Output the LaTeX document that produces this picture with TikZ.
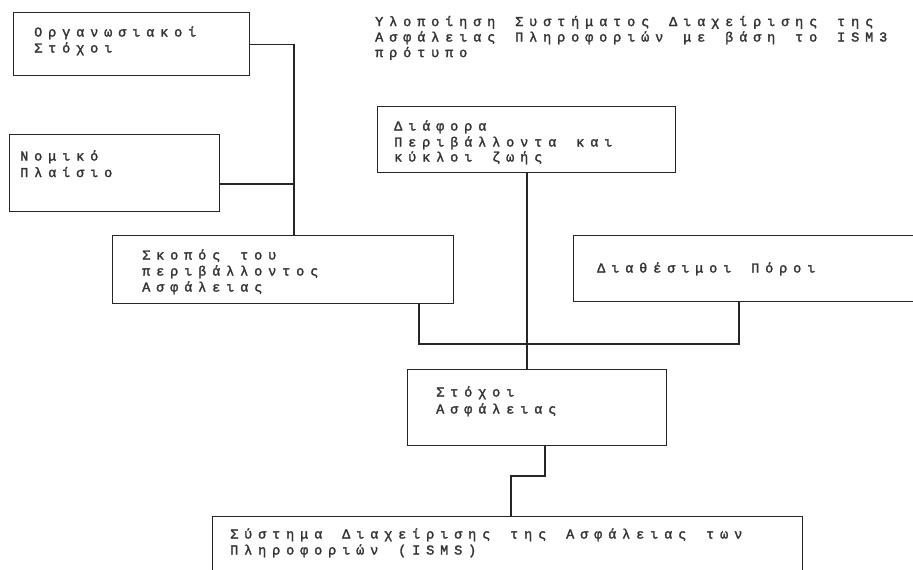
\documentclass[tikz,border=0pt]{standalone}
\usepackage{fontspec}
\setmainfont{Liberation Mono}[FakeBold=2]
\ExplSyntaxOn
\NewDocumentCommand\cells{m}{\str_map_inline:nn{#1}{\makebox[14pt][l]{##1}}}
\ExplSyntaxOff
\begin{document}
\begin{tikzpicture}[x=1pt,y=-1pt,
  box/.style={draw=black!85, line width=1.2pt, fill=none, inner sep=0pt, anchor=north west},
  txt/.style={anchor=base west, inner sep=0pt, text=black!80, font=\fontsize{13.5}{16}\selectfont},
  link/.style={draw=black!85, line width=1.2pt}]
\useasboundingbox (0,0) rectangle (913,570);
\clip (0,0) rectangle (913,570);
\fill[white] (0,0) rectangle (913,570);
% title
\node[txt] (ti1) at (375,26) {\cells{Υλοποίηση Συστήματος Διαχείρισης της}};
\node[txt] (ti2) at (375,41.5) {\cells{Ασφάλειας Πληροφοριών με βάση το ISM3}};
\node[txt] (ti3) at (375,57) {\cells{πρότυπο}};
% boxes
\node[box, minimum width=236, minimum height=63] (b1) at (13,12) {};
\node[box, minimum width=210, minimum height=77] (b2) at (9,134) {};
\node[box, minimum width=341, minimum height=68] (b3) at (112,235) {};
\node[box, minimum width=298, minimum height=66] (b4) at (377,106) {};
\node[box, minimum width=360, minimum height=66] (b5) at (573,235) {};
\node[box, minimum width=259, minimum height=76] (b6) at (407,369) {};
\node[box, minimum width=590, minimum height=80] (b7) at (212,516) {};
% texts
\node[txt] (t1a) at (34,36.5) {\cells{Οργανωσιακοί}};
\node[txt] (t1b) at (34,52.5) {\cells{Στόχοι}};
\node[txt] (t2a) at (20,160.5) {\cells{Νομικό}};
\node[txt] (t2b) at (20,177) {\cells{Πλαίσιο}};
\node[txt] (t3a) at (142,259.5) {\cells{Σκοπός του}};
\node[txt] (t3b) at (142,275.5) {\cells{περιβάλλοντος}};
\node[txt] (t3c) at (142,291.5) {\cells{Ασφάλειας}};
\node[txt] (t4a) at (394,130.5) {\cells{Διάφορα}};
\node[txt] (t4b) at (394,146.5) {\cells{Περιβάλλοντα και}};
\node[txt] (t4c) at (394,161.5) {\cells{κύκλοι ζωής}};
\node[txt] (t5a) at (597,272.5) {\cells{Διαθέσιμοι Πόροι}};
\node[txt] (t6a) at (436,396.5) {\cells{Στόχοι}};
\node[txt] (t6b) at (436,413.5) {\cells{Ασφάλειας}};
\node[txt] (t7a) at (230,538.5) {\cells{Σύστημα Διαχείρισης της Ασφάλειας των}};
\node[txt] (t7b) at (230,554.5) {\cells{Πληροφοριών (ISMS)}};
% junctions
\coordinate (j1) at (294,235);
\coordinate (j2) at (294,184);
\coordinate (j3) at (419,303);
\coordinate (j4) at (527,344);
\coordinate (j5) at (739,301);
\coordinate (j6) at (527,172);
\coordinate (j7) at (545,445);
\coordinate (j8) at (511,476);
% connectors
\draw[link] (b1.east) -| (j1);
\draw[link] (j2 -| b2.east) -- (j2);
\draw[link] (j3) |- (j4);
\draw[link] (j5) |- (j4);
\draw[link] (j6) -- (j6 |- b6.north);
\draw[link] (j7) |- (j8) -- (j8 |- b7.north);
\end{tikzpicture}
\end{document}
